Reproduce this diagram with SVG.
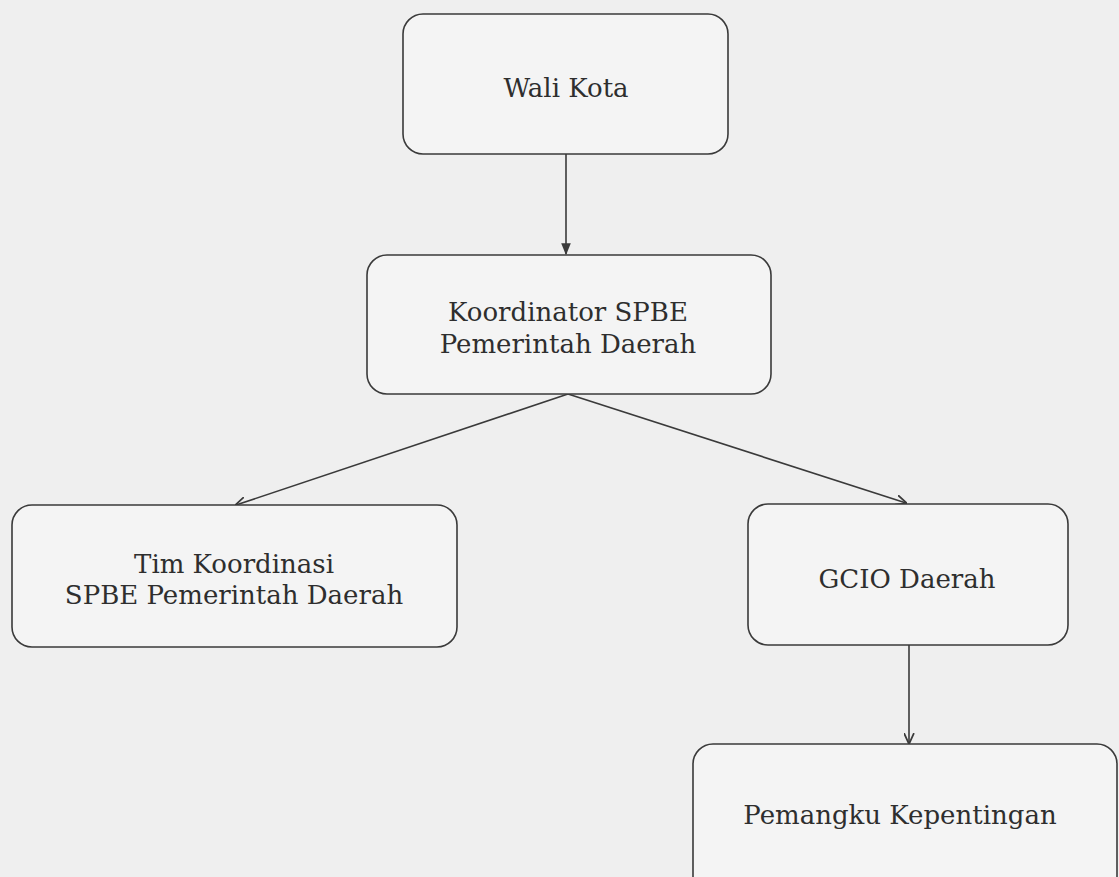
<svg xmlns="http://www.w3.org/2000/svg" width="1119" height="877" viewBox="0 0 1119 877">
<defs>
<style>
.box{fill:#f4f4f4;stroke:#3a3a3a;stroke-width:1.6}
.lbl{font-family:"DejaVu Serif","Liberation Serif",serif;font-size:26px;fill:#2e2e2e;text-anchor:middle}
.con{stroke:#3a3a3a;stroke-width:1.6;fill:none}
</style>
<marker id="arr" viewBox="0 0 10 10" refX="9" refY="5" markerWidth="12" markerHeight="12" markerUnits="userSpaceOnUse" orient="auto">
<path d="M0,1 L10,5 L0,9 Z" fill="#3a3a3a"/>
</marker>
<marker id="arro" viewBox="0 0 10 10" refX="9" refY="5" markerWidth="11" markerHeight="11" markerUnits="userSpaceOnUse" orient="auto">
<path d="M0,0.5 L10,5 L0,9.5" fill="none" stroke="#3a3a3a" stroke-width="1.6"/>
</marker>
</defs>
<rect width="1119" height="877" fill="#efefef"/>
<g id="connectors">
<line class="con" x1="566" y1="154" x2="566" y2="254" marker-end="url(#arr)"/>
<line class="con" x1="568" y1="394" x2="236" y2="505" marker-end="url(#arro)"/>
<line class="con" x1="568" y1="394" x2="906" y2="503" marker-end="url(#arro)"/>
<line class="con" x1="909" y1="645" x2="909" y2="743" marker-end="url(#arro)"/>
</g>
<g id="wali-kota">
<rect class="box" x="403" y="14" width="325" height="140" rx="20"/>
<text class="lbl" x="566" y="97">Wali Kota</text>
</g>
<g id="koordinator">
<rect class="box" x="367" y="255" width="404" height="139" rx="20"/>
<text class="lbl" x="568" y="321">Koordinator SPBE</text>
<text class="lbl" x="568" y="353">Pemerintah Daerah</text>
</g>
<g id="tim-koordinasi">
<rect class="box" x="12" y="505" width="445" height="142" rx="20"/>
<text class="lbl" x="234" y="573">Tim Koordinasi</text>
<text class="lbl" x="234" y="604">SPBE Pemerintah Daerah</text>
</g>
<g id="gcio">
<rect class="box" x="748" y="504" width="320" height="141" rx="20"/>
<text class="lbl" x="907" y="588">GCIO Daerah</text>
</g>
<g id="pemangku">
<rect class="box" x="693" y="744" width="424" height="160" rx="20"/>
<text class="lbl" x="900" y="824">Pemangku Kepentingan</text>
</g>
</svg>
